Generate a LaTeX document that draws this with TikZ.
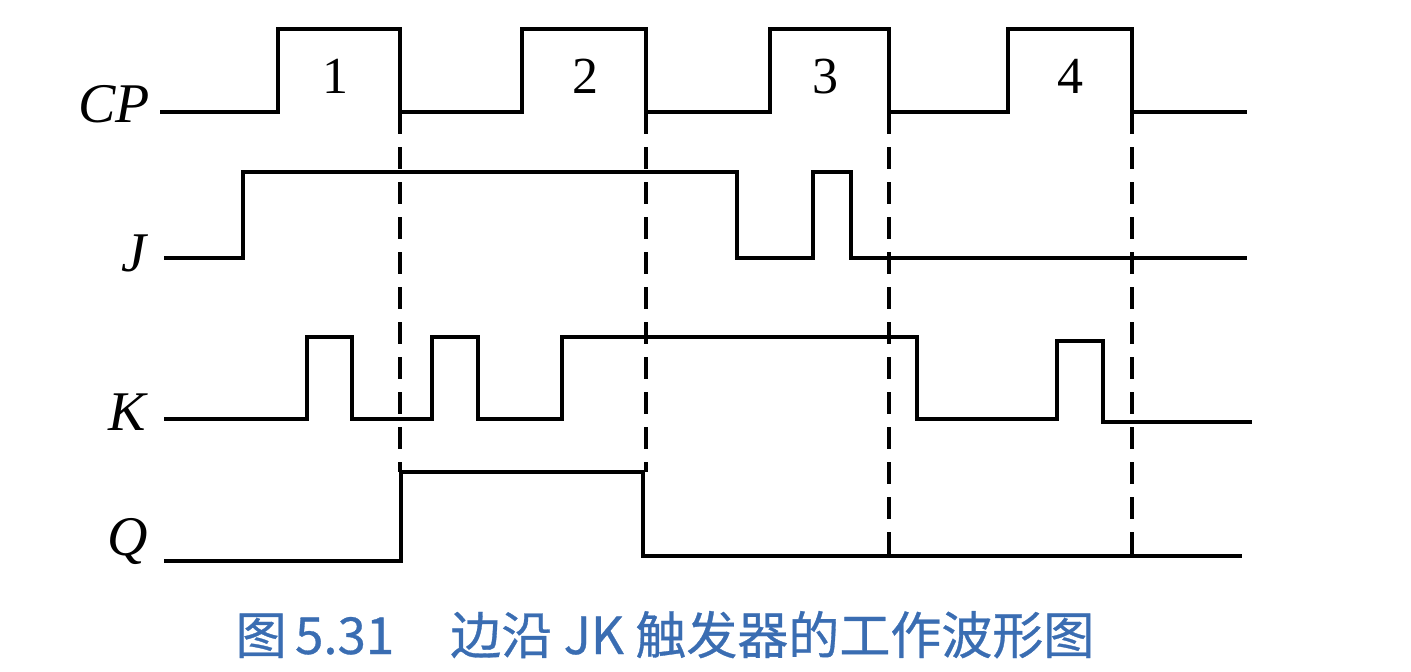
\documentclass[tikz,border=0pt]{standalone}
\usepackage{fontspec}
\setmainfont{Liberation Serif}
\newfontfamily\cjk[FakeBold=0.6]{Noto Sans CJK SC}
\definecolor{capblue}{HTML}{3A6DB2}
\begin{document}
\begin{tikzpicture}[x=1pt,y=-1pt,
  wave/.style={line width=3.6pt, line join=miter},
  guide/.style={line width=3.2pt, dash pattern=on 22pt off 13pt},
  lab/.style={inner sep=0pt, anchor=base east, font=\fontsize{56}{60}\selectfont\itshape},
  num/.style={inner sep=0pt, anchor=base, font=\fontsize{52}{60}\selectfont},
  captext/.style={inner sep=0pt, anchor=base, text=capblue, font=\cjk\fontsize{51}{60}\selectfont}]
\useasboundingbox (0,0) rectangle (1411,672);
% labels
\node[lab] (lcp) at (150,122) {CP};
\node[lab] (lj) at (147,271) {J};
\node[lab] (lk) at (146,430) {K};
\node[lab] (lq) at (148,555) {Q};
% pulse numbers
\node[num] (n1) at (335,93) {1};
\node[num] (n2) at (585,93) {2};
\node[num] (n3) at (825,93) {3};
\node[num] (n4) at (1070,93) {4};
% waveforms
\draw[wave] (160,112) -| (278,29) -| (400,112) -| (522,29) -| (646,112) -| (770,29) -| (889,112) -| (1008,29) -| (1132,112) -- (1247,112);
\draw[wave] (164,258) -| (243,172) -| (737,258) -| (813,172) -| (851,258) -- (1247,258);
\draw[wave] (164,419) -| (307,337) -| (352,419) -| (432,337) -| (478,419) -| (562,337) -| (917,419) -| (1057,341) -| (1103,422) -- (1252,422);
\draw[wave] (164,561) -| (401,472) -| (643,556) -- (1242,556);
% dashed guides
\draw[guide] (400,112) -- (400,472);
\draw[guide] (646,112) -- (646,472);
\draw[guide] (889,112) -- (889,556);
\draw[guide] (1132,112) -- (1132,556);
% caption
\node[captext] (caption) at (665,654) {图\,5.31\hspace{1.1em}边沿 JK 触发器的工作波形图};
\end{tikzpicture}
\end{document}
